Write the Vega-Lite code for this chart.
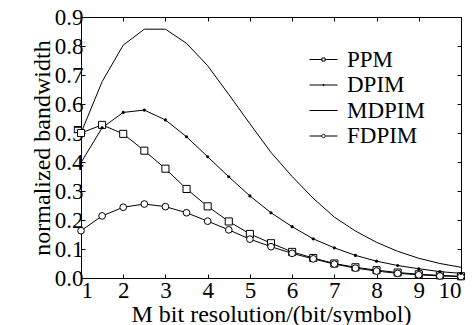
{
  "$schema": "https://vega.github.io/schema/vega-lite/v6.json",
  "width": 380,
  "height": 261,
  "autosize": {"type": "none"},
  "padding": {"left": 81, "top": 17, "right": 11, "bottom": 47},
  "background": "white",
  "config": {
    "font": "Liberation Serif",
    "view": {"stroke": "black", "strokeWidth": 1},
    "axis": {
      "domainColor": "black", "tickColor": "black", "labelColor": "black", "titleColor": "black",
      "grid": false, "labelFont": "Liberation Serif", "titleFont": "Liberation Serif",
      "labelFontSize": 23, "titleFontSize": 24, "titleFontWeight": "normal",
      "tickSize": -4, "domainWidth": 1, "tickWidth": 1
    },
    "legend": {
      "labelFont": "Liberation Serif", "labelFontSize": 23, "labelColor": "black"
    }
  },
  "data": {
    "values": [
      {"x": 1, "s": "PPM", "v": 0.500}, {"x": 1.5, "s": "PPM", "v": 0.528}, {"x": 2, "s": "PPM", "v": 0.497}, {"x": 2.5, "s": "PPM", "v": 0.439},
      {"x": 3, "s": "PPM", "v": 0.377}, {"x": 3.5, "s": "PPM", "v": 0.307}, {"x": 4, "s": "PPM", "v": 0.247}, {"x": 4.5, "s": "PPM", "v": 0.195},
      {"x": 5, "s": "PPM", "v": 0.152}, {"x": 5.5, "s": "PPM", "v": 0.120}, {"x": 6, "s": "PPM", "v": 0.090}, {"x": 6.5, "s": "PPM", "v": 0.069},
      {"x": 7, "s": "PPM", "v": 0.050}, {"x": 7.5, "s": "PPM", "v": 0.037}, {"x": 8, "s": "PPM", "v": 0.027}, {"x": 8.5, "s": "PPM", "v": 0.019},
      {"x": 9, "s": "PPM", "v": 0.013}, {"x": 9.5, "s": "PPM", "v": 0.009}, {"x": 10, "s": "PPM", "v": 0.006},
      {"x": 1, "s": "DPIM", "v": 0.398}, {"x": 1.5, "s": "DPIM", "v": 0.518}, {"x": 2, "s": "DPIM", "v": 0.571}, {"x": 2.5, "s": "DPIM", "v": 0.579},
      {"x": 3, "s": "DPIM", "v": 0.545}, {"x": 3.5, "s": "DPIM", "v": 0.487}, {"x": 4, "s": "DPIM", "v": 0.418}, {"x": 4.5, "s": "DPIM", "v": 0.349},
      {"x": 5, "s": "DPIM", "v": 0.283}, {"x": 5.5, "s": "DPIM", "v": 0.225}, {"x": 6, "s": "DPIM", "v": 0.177}, {"x": 6.5, "s": "DPIM", "v": 0.135},
      {"x": 7, "s": "DPIM", "v": 0.104}, {"x": 7.5, "s": "DPIM", "v": 0.078}, {"x": 8, "s": "DPIM", "v": 0.058}, {"x": 8.5, "s": "DPIM", "v": 0.043},
      {"x": 9, "s": "DPIM", "v": 0.032}, {"x": 9.5, "s": "DPIM", "v": 0.022}, {"x": 10, "s": "DPIM", "v": 0.016},
      {"x": 1, "s": "MDPIM", "v": 0.500}, {"x": 1.5, "s": "MDPIM", "v": 0.677}, {"x": 2, "s": "MDPIM", "v": 0.803}, {"x": 2.5, "s": "MDPIM", "v": 0.858},
      {"x": 3, "s": "MDPIM", "v": 0.858}, {"x": 3.5, "s": "MDPIM", "v": 0.809}, {"x": 4, "s": "MDPIM", "v": 0.732}, {"x": 4.5, "s": "MDPIM", "v": 0.633},
      {"x": 5, "s": "MDPIM", "v": 0.532}, {"x": 5.5, "s": "MDPIM", "v": 0.433}, {"x": 6, "s": "MDPIM", "v": 0.350}, {"x": 6.5, "s": "MDPIM", "v": 0.275},
      {"x": 7, "s": "MDPIM", "v": 0.210}, {"x": 7.5, "s": "MDPIM", "v": 0.162}, {"x": 8, "s": "MDPIM", "v": 0.123}, {"x": 8.5, "s": "MDPIM", "v": 0.092},
      {"x": 9, "s": "MDPIM", "v": 0.068}, {"x": 9.5, "s": "MDPIM", "v": 0.050}, {"x": 10, "s": "MDPIM", "v": 0.037},
      {"x": 1, "s": "FDPIM", "v": 0.163}, {"x": 1.5, "s": "FDPIM", "v": 0.214}, {"x": 2, "s": "FDPIM", "v": 0.244}, {"x": 2.5, "s": "FDPIM", "v": 0.255},
      {"x": 3, "s": "FDPIM", "v": 0.246}, {"x": 3.5, "s": "FDPIM", "v": 0.225}, {"x": 4, "s": "FDPIM", "v": 0.196}, {"x": 4.5, "s": "FDPIM", "v": 0.166},
      {"x": 5, "s": "FDPIM", "v": 0.134}, {"x": 5.5, "s": "FDPIM", "v": 0.108}, {"x": 6, "s": "FDPIM", "v": 0.085}, {"x": 6.5, "s": "FDPIM", "v": 0.066},
      {"x": 7, "s": "FDPIM", "v": 0.048}, {"x": 7.5, "s": "FDPIM", "v": 0.034}, {"x": 8, "s": "FDPIM", "v": 0.024}, {"x": 8.5, "s": "FDPIM", "v": 0.016},
      {"x": 9, "s": "FDPIM", "v": 0.011}, {"x": 9.5, "s": "FDPIM", "v": 0.007}, {"x": 10, "s": "FDPIM", "v": 0.005}
    ]
  },
  "layer": [
    {
      "mark": {"type": "line", "strokeWidth": 1},
      "encoding": {
        "x": {"field": "x", "type": "quantitative", "scale": {"domain": [1, 10], "nice": false},
          "axis": {"values": [1, 2, 3, 4, 5, 6, 7, 8, 9, 10], "title": "M bit resolution/(bit/symbol)", "labelPadding": 5, "titlePadding": 0}},
        "y": {"field": "v", "type": "quantitative", "scale": {"domain": [0, 0.9], "nice": false},
          "axis": {"values": [0, 0.1, 0.2, 0.3, 0.4, 0.5, 0.6, 0.7, 0.8, 0.9], "format": ".1f", "title": "normalized bandwidth", "labelPadding": 2, "titlePadding": 0}},
        "color": {"field": "s", "type": "nominal",
          "scale": {"domain": ["PPM", "DPIM", "MDPIM", "FDPIM"], "range": ["black", "black", "black", "black"]},
          "legend": {
            "title": null, "orient": "none", "legendX": 231, "legendY": 31, "padding": 0,
            "symbolSize": 196, "symbolStrokeWidth": 1, "labelOffset": 12, "rowPadding": 1.5,
            "encode": {"symbols": {"update": {
              "shape": {"signal": "datum.value === 'PPM' ? 'M-2,0H-0.22M0.22,0H2M-0.22,-0.22H0.22V0.22H-0.22Z' : datum.value === 'DPIM' ? 'M-2,0H2M0.1,0A0.1,0.1 0 1,1 -0.1,0A0.1,0.1 0 1,1 0.1,0' : datum.value === 'FDPIM' ? 'M-2,0H-0.24M0.24,0H2M0.24,0A0.24,0.24 0 1,1 -0.24,0A0.24,0.24 0 1,1 0.24,0' : 'M-2,0H2'"},
              "stroke": {"value": "black"}, "strokeWidth": {"value": 1}, "fill": {"value": "transparent"}
            }}}
          }
        }
      }
    },
    {
      "transform": [{"filter": "datum.s === 'PPM'"}],
      "mark": {"type": "point", "shape": "square", "size": 50, "filled": true, "fill": "white", "stroke": "black", "strokeWidth": 1, "opacity": 1},
      "encoding": {
        "x": {"field": "x", "type": "quantitative", "axis": null},
        "y": {"field": "v", "type": "quantitative", "axis": null}
      }
    },
    {
      "transform": [{"filter": "datum.s === 'FDPIM'"}],
      "mark": {"type": "point", "shape": "circle", "size": 45, "filled": true, "fill": "white", "stroke": "black", "strokeWidth": 1, "opacity": 1},
      "encoding": {
        "x": {"field": "x", "type": "quantitative", "axis": null},
        "y": {"field": "v", "type": "quantitative", "axis": null}
      }
    },
    {
      "transform": [{"filter": "datum.s === 'DPIM'"}],
      "mark": {"type": "point", "shape": "circle", "size": 10, "filled": true, "fill": "black", "opacity": 1},
      "encoding": {
        "x": {"field": "x", "type": "quantitative",
          "axis": {"orient": "top", "values": [1, 2, 3, 4, 5, 6, 7, 8, 9, 10], "labels": false, "title": null, "domain": false}},
        "y": {"field": "v", "type": "quantitative",
          "axis": {"orient": "right", "values": [0, 0.1, 0.2, 0.3, 0.4, 0.5, 0.6, 0.7, 0.8, 0.9], "labels": false, "title": null, "domain": false}}
      }
    }
  ],
  "resolve": {"axis": {"x": "independent", "y": "independent"}}
}
